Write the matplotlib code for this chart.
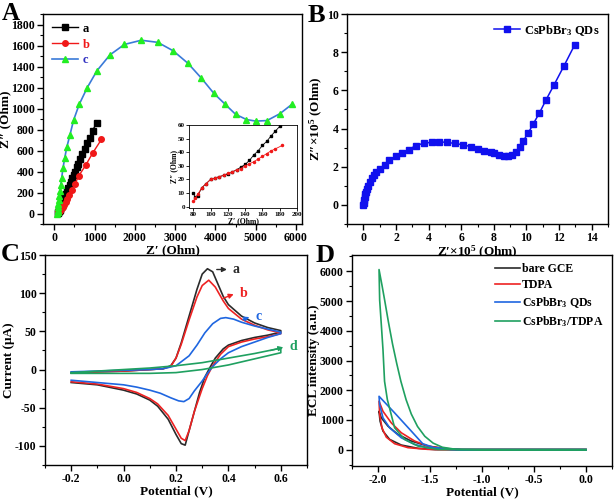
import numpy as np
import matplotlib
matplotlib.use('Agg')
from matplotlib import pyplot as plt
from matplotlib.ticker import AutoMinorLocator

plt.rcParams['font.family'] = ['Liberation Serif', 'DejaVu Serif']
plt.rcParams['font.weight'] = 'bold'
plt.rcParams['axes.labelweight'] = 'bold'
plt.rcParams['mathtext.fontset'] = 'custom'
plt.rcParams['mathtext.rm'] = 'Liberation Serif:bold'
plt.rcParams['mathtext.it'] = 'Liberation Serif:bold'
plt.rcParams['mathtext.bf'] = 'Liberation Serif:bold'
plt.rcParams['xtick.direction'] = 'out'
plt.rcParams['ytick.direction'] = 'out'
plt.rcParams['axes.unicode_minus'] = False

# ---- panel A: EIS ----
a_x = [85, 95, 105, 115, 125, 135, 150, 165, 180, 195, 210, 230, 250, 270, 295, 320, 350, 380,
       410, 445, 480, 520, 560, 600, 650, 700, 760, 820, 880, 950, 1050]
a_y = [8, 15, 20, 23, 26, 30, 45, 60, 75, 90, 105, 125, 145, 165, 190, 215, 245, 275,
       300, 335, 365, 400, 440, 475, 520, 565, 615, 670, 720, 790, 862]
b_x = [82, 90, 100, 110, 120, 135, 150, 170, 195, 220, 250, 285, 325, 375, 435, 510, 610, 780, 960, 1170]
b_y = [4, 14, 20, 22, 25, 28, 33, 40, 50, 65, 85, 110, 140, 175, 220, 280, 360, 460, 580, 705]
c_x = [75, 80, 85, 90, 100, 110, 125, 140, 160, 185, 215, 260, 310, 390, 480, 620, 820, 1060,
       1380, 1740, 2160, 2570, 2950, 3320, 3650, 3960, 4230, 4500, 4770, 5000, 5280, 5600, 5900]
c_y = [0, 15, 35, 60, 95, 130, 170, 215, 270, 340, 430, 530, 630, 750, 890, 1040, 1200, 1360,
       1510, 1610, 1650, 1630, 1550, 1430, 1290, 1145, 1045, 945, 895, 880, 885, 950, 1040]
# inset
ia_x = [80, 82, 85, 90, 95, 100, 105, 110, 115, 120, 125, 130, 135, 140, 145, 150, 155, 160, 165, 170, 175, 180]
ia_y = [10, 7, 8, 14, 17, 20, 21, 22, 23, 24, 25.5, 27, 29, 31, 34, 38, 41, 45, 48, 52, 55.5, 59]
ib_x = [80, 82, 85, 90, 95, 100, 105, 110, 115, 120, 125, 130, 135, 140, 145, 150, 155, 160, 165, 170, 175, 183]
ib_y = [4, 6, 9, 14, 17, 20, 21, 22, 23, 24.5, 25.5, 27, 28, 30, 31.5, 33, 35, 37, 39, 41, 42.5, 45]

# ---- panel B ----
q_x = [0, 0.02, 0.05, 0.08, 0.12, 0.17, 0.23, 0.3, 0.4, 0.52, 0.65, 0.8, 1.0, 1.3, 1.6, 2.0, 2.4,
       2.8, 3.2, 3.7, 4.2, 4.65, 5.1, 5.6, 6.1, 6.6, 7.0, 7.4, 7.8, 8.0, 8.3, 8.6, 8.85, 9.1, 9.35,
       9.6, 9.8, 10.1, 10.4, 10.8, 11.2, 11.7, 12.3, 12.95]
q_y = [0, 0.1, 0.25, 0.4, 0.55, 0.7, 0.85, 1.0, 1.2, 1.4, 1.55, 1.72, 1.9, 2.1, 2.35, 2.55, 2.72,
       2.9, 3.1, 3.23, 3.28, 3.3, 3.28, 3.22, 3.15, 3.05, 2.95, 2.85, 2.75, 2.7, 2.62, 2.58, 2.57,
       2.63, 2.78, 3.02, 3.35, 3.75, 4.22, 4.82, 5.5, 6.3, 7.28, 8.37]

# ---- panel C: CV ----
cv_a_x = [-0.2, -0.1, 0.0, 0.1, 0.15, 0.18, 0.2, 0.22, 0.25, 0.28, 0.30, 0.32, 0.34, 0.36, 0.38, 0.40, 0.45, 0.5, 0.55, 0.6,
          0.6, 0.55, 0.5, 0.45, 0.40, 0.38, 0.35, 0.33, 0.31, 0.29, 0.27, 0.25, 0.235, 0.22, 0.20, 0.17, 0.13, 0.1, 0.05, 0.0, -0.1, -0.2]
cv_a_y = [-4, -3, -2, 0, 1, 5, 15, 35, 70, 105, 125, 132, 128, 112, 96, 85, 70, 61, 55, 51,
          49, 45, 42, 38, 32, 27, 15, 3, -10, -30, -55, -80, -99, -97, -85, -65, -48, -40, -32, -27, -20, -17]
cv_b_x = [-0.2, -0.1, 0.0, 0.1, 0.15, 0.18, 0.2, 0.22, 0.25, 0.28, 0.30, 0.325, 0.35, 0.38, 0.40, 0.45, 0.5, 0.55, 0.6,
          0.6, 0.55, 0.5, 0.45, 0.40, 0.37, 0.34, 0.32, 0.30, 0.27, 0.25, 0.235, 0.22, 0.20, 0.17, 0.13, 0.1, 0.05, 0.0, -0.1, -0.2]
cv_b_y = [-4, -3, -2, 0, 1, 4, 15, 33, 65, 95, 110, 117, 108, 90, 80, 66, 58, 52, 48,
          47, 43, 40, 36, 30, 20, 5, -8, -25, -55, -80, -93, -90, -78, -60, -45, -38, -30, -25, -19, -16]
cv_c_x = [-0.2, 0.0, 0.1, 0.15, 0.2, 0.25, 0.28, 0.31, 0.34, 0.37, 0.39, 0.42, 0.45, 0.5, 0.55, 0.6,
          0.6, 0.55, 0.5, 0.45, 0.40, 0.37, 0.34, 0.32, 0.30, 0.27, 0.25, 0.23, 0.21, 0.18, 0.14, 0.1, 0.05, 0.0, -0.1, -0.2]
cv_c_y = [-3, -1, 0, 1, 5, 18, 32, 48, 60, 67, 68, 66, 62, 57, 53, 49,
          47, 42, 36, 30, 22, 14, 4, -5, -15, -28, -38, -42, -41, -37, -31, -27, -23, -20, -17, -14]
cv_d_x = [-0.2, -0.1, 0.0, 0.1, 0.2, 0.3, 0.4, 0.5, 0.6,
          0.6, 0.5, 0.4, 0.3, 0.2, 0.1, 0.0, -0.1, -0.2]
cv_d_y = [-4, -2, 0, 2, 5, 9, 15, 21, 28,
          22, 14, 6, 0, -4, -5, -5, -5, -5]

# ---- panel D: ECL ----
ecl_gce_x = [0, -1.2, -1.45, -1.616, -1.776, -1.888, -1.952, -1.98, -1.99,
             -1.968, -1.904, -1.808, -1.68, -1.52, -1.36, -1.2, 0]
ecl_gce_y = [0, 0, 0, 45, 155, 345, 623, 957, 1290,
             1070, 790, 512, 290, 120, 40, 0, 0]
ecl_tdpa_x = [0, -1.3, -1.52, -1.712, -1.84, -1.92, -1.962, -1.984, -1.99,
              -1.952, -1.872, -1.776, -1.648, -1.52, -1.36, -1.2, 0]
ecl_tdpa_y = [0, 0, 10, 67, 200, 420, 735, 1180, 1630,
              1290, 900, 568, 290, 120, 30, 0, 0]
ecl_qd_x = [0, -1.2, -1.33, -1.52, -1.648, -1.776, -1.888, -1.952, -1.984, -1.99,
            -1.84, -1.68, -1.57, -1.46, -1.3, -1.2, 0]
ecl_qd_y = [0, 0, 10, 67, 177, 400, 735, 1070, 1515, 1795,
            1237, 625, 200, 67, 10, 0, 0]
ecl_mix_x = [0, -1.2, -1.425, -1.616, -1.744, -1.84, -1.91, -1.937, -1.952, -1.968, -1.984, -1.99,
             -1.96, -1.936, -1.90, -1.86, -1.82, -1.78, -1.73, -1.68, -1.62, -1.55, -1.47, -1.38,
             -1.25, -1.0, 0]
ecl_mix_y = [0, 0, 10, 120, 345, 735, 1683, 2300, 3360, 4200, 5030, 6060,
             5500, 5030, 4300, 3550, 2900, 2300, 1683, 1200, 780, 450, 220, 80,
             10, 0, 0]

W, H = 614, 501
fig = plt.figure(figsize=(W / 100, H / 100), dpi=100)


def box(l, t, r, b):
    return [l / W, 1 - b / H, (r - l) / W, (b - t) / H]


def style(ax, fs=8.5):
    ax.tick_params(labelsize=fs, width=1, length=4, pad=2)
    ax.tick_params(which='minor', length=2, width=0.8)
    ax.tick_params(top=False, right=False, which='both')
    for s in ax.spines.values():
        s.set_linewidth(1)
    ax.xaxis.set_minor_locator(AutoMinorLocator(2))
    ax.yaxis.set_minor_locator(AutoMinorLocator(2))


# A
axA = fig.add_axes(box(43, 14, 302, 224))
axA.plot(a_x, a_y, '-s', color='black', ms=4, lw=1, label='a')
axA.plot(b_x, b_y, '-o', color='#f01818', ms=4, lw=1, label='b')
axA.plot(c_x, c_y, '-^', color='#3a7ad8', mfc='#22ee22', mec='#22ee22', ms=5, lw=1.2, label='c')
axA.set_xlim(-280, 6150)
axA.set_ylim(-100, 1900)
axA.set_xticks([0, 1000, 2000, 3000, 4000, 5000, 6000])
axA.set_yticks(range(0, 1801, 200))
style(axA)
axA.set_xlabel('Z\u2032 (Ohm)', fontsize=9.5, labelpad=0)
axA.set_ylabel('Z\u2033 (Ohm)', fontsize=9.5, labelpad=0)
leg = axA.legend(loc='upper left', frameon=False, fontsize=9, handlelength=2.1,
                 handletextpad=0.4, borderaxespad=0.3, labelspacing=0.3)
for t, c in zip(leg.get_texts(), ['black', '#f01818', '#3030c0']):
    t.set_color(c)
fig.text(2 / W, 1 - 20 / H, 'A', fontsize=18, fontweight='bold')

axI = fig.add_axes(box(189, 125, 297, 208))
axI.plot(ia_x, ia_y, '-s', color='black', ms=1.5, lw=0.6)
axI.plot(ib_x, ib_y, '-o', color='#f01818', ms=1.5, lw=0.6)
axI.set_xlim(75, 200)
axI.set_ylim(-1, 60)
axI.set_xticks(range(80, 201, 20))
axI.set_yticks(range(0, 61, 10))
axI.tick_params(labelsize=5, length=2, width=0.6, pad=1)
axI.tick_params(top=False, right=False)
for s in axI.spines.values():
    s.set_linewidth(0.6)
axI.set_xlabel('Z\u2032 (Ohm)', fontsize=5.5, labelpad=0)
axI.set_ylabel('Z\u2033 (Ohm)', fontsize=5.5, labelpad=0)

# B
axB = fig.add_axes(box(347, 14, 608, 224))
axB.plot(q_x, q_y, '-s', color='#1010ee', ms=4, lw=1.1, label='CsPbBr$_3$ QDs')
axB.set_xlim(-1, 15)
axB.set_ylim(-1, 10)
axB.set_xticks(range(0, 15, 2))
axB.set_yticks(range(0, 11, 2))
style(axB)
axB.set_xlabel('Z\u2032\u00d710$^5$ (Ohm)', fontsize=9.5, labelpad=0)
axB.set_ylabel('Z\u2033\u00d710$^5$ (Ohm)', fontsize=9.5, labelpad=1)
axB.legend(loc='upper right', frameon=False, fontsize=9, handlelength=2.1,
           handletextpad=0.3, borderaxespad=0.3)
fig.text(308 / W, 1 - 22 / H, 'B', fontsize=19, fontweight='bold')

# C
axC = fig.add_axes(box(45, 255, 307, 465))
cols = ['#2b2b2b', '#ee2222', '#1f66e0', '#1fa060']
axC.plot(cv_a_x, cv_a_y, color=cols[0], lw=1.2)
axC.plot(cv_b_x, cv_b_y, color=cols[1], lw=1.2)
axC.plot(cv_c_x, cv_c_y, color=cols[2], lw=1.2)
axC.plot(cv_d_x, cv_d_y, color=cols[3], lw=1.2)
axC.set_xlim(-0.3, 0.7)
axC.set_ylim(-125, 150)
axC.set_xticks([-0.2, 0.0, 0.2, 0.4, 0.6])
axC.set_yticks([-100, -50, 0, 50, 100, 150])
style(axC)
axC.set_xlabel('Potential (V)', fontsize=9.5, labelpad=0)
axC.set_ylabel('Current (\u03bcA)', fontsize=9.5, labelpad=0)
notes = [('a', 0.345, 131, 0.405, 131, cols[0]), ('b', 0.37, 92, 0.43, 100, cols[1]),
         ('c', 0.445, 64, 0.49, 70, cols[2]), ('d', 0.55, 24, 0.62, 30, cols[3])]
for lab, x0, y0, x1, y1, c in notes:
    axC.annotate('', xy=(x1, y1), xytext=(x0, y0),
                 arrowprops=dict(arrowstyle='-|>', color=c, lw=1, mutation_scale=7))
    axC.text(x1 + 0.012, y1, lab, color=c, fontsize=10, va='center', ha='left')
fig.text(1 / W, 1 - 261 / H, 'C', fontsize=19, fontweight='bold')

# D
axD = fig.add_axes(box(352, 255, 612, 466))
axD.plot(ecl_gce_x, ecl_gce_y, color=cols[0], lw=1.2, label='bare GCE')
axD.plot(ecl_tdpa_x, ecl_tdpa_y, color=cols[1], lw=1.2, label='TDPA')
axD.plot(ecl_qd_x, ecl_qd_y, color=cols[2], lw=1.2, label='CsPbBr$_3$ QDs')
axD.plot(ecl_mix_x, ecl_mix_y, color=cols[3], lw=1.2, label='CsPbBr$_3$/TDPA')
axD.set_xlim(-2.25, 0.25)
axD.set_ylim(-550, 6550)
axD.set_xticks([-2.0, -1.5, -1.0, -0.5, 0.0])
axD.set_yticks(range(0, 6001, 1000))
style(axD)
axD.set_xlabel('Potential (V)', fontsize=9.5, labelpad=0)
axD.set_ylabel('ECL intensity (a.u.)', fontsize=9.5, labelpad=0)
axD.legend(loc='upper right', frameon=False, fontsize=8.5, handlelength=2.1,
           handletextpad=0.2, borderaxespad=0.3, labelspacing=0.35)
fig.text(316 / W, 1 - 262 / H, 'D', fontsize=19, fontweight='bold')

fig.savefig('out.png', dpi=100)
